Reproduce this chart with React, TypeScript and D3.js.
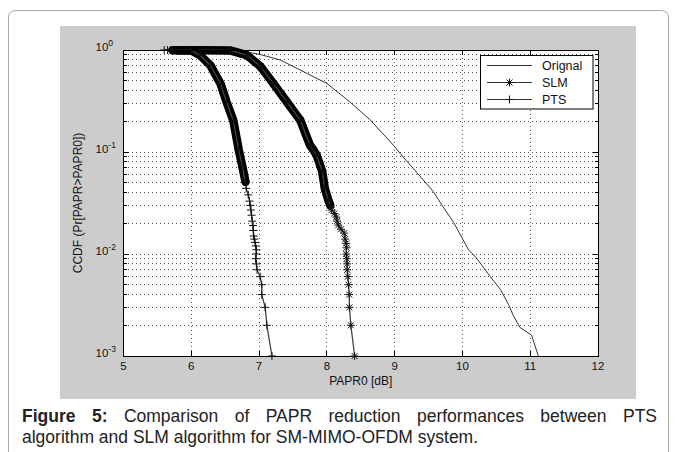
import React, { useEffect, useRef } from "react";
import * as d3 from "d3";

const W = 677;
const H = 452;

const xTicks = [5, 6, 7, 8, 9, 10, 11, 12];
const yExponents = [0, -1, -2, -3];
const legendNames = ["Orignal", "SLM", "PTS"];

// [PAPR0 (dB), CCDF]
const originalCurve: [number, number][] = [
  [5.9, 1.0], [6.67, 0.99], [7.0, 0.91], [7.31, 0.8], [8.0, 0.47], [8.34, 0.31],
  [8.64, 0.206], [8.98, 0.117], [9.08, 0.097], [9.57, 0.041], [9.7, 0.03],
  [9.87, 0.0204], [10.09, 0.011], [10.21, 0.0091], [10.41, 0.006], [10.56, 0.0045],
  [10.68, 0.0032], [10.75, 0.0025], [10.85, 0.0019], [11.02, 0.0016], [11.12, 0.001],
];

const slmCurve: [number, number][] = [
  [5.8, 0.995], [6.2, 0.995], [6.57, 0.99], [6.82, 0.89], [7.02, 0.69], [7.21, 0.47],
  [7.41, 0.31], [7.61, 0.204], [7.75, 0.117], [7.8, 0.105], [7.85, 0.093], [7.93, 0.065],
  [7.97, 0.044], [8.02, 0.034], [8.05, 0.03], [8.07, 0.027], [8.11, 0.025], [8.14, 0.023],
  [8.15, 0.021], [8.17, 0.0192], [8.21, 0.0175], [8.255, 0.016], [8.27, 0.014],
  [8.285, 0.0127], [8.29, 0.0115], [8.285, 0.01], [8.295, 0.009], [8.3, 0.008],
  [8.3, 0.007], [8.31, 0.006], [8.32, 0.005], [8.33, 0.004], [8.333, 0.003],
  [8.354, 0.002], [8.41, 0.001],
];

const ptsCurve: [number, number][] = [
  [5.6, 1.0], [5.65, 1.0], [5.7, 1.0], [5.72, 0.995], [6.0, 0.99], [6.13, 0.89],
  [6.28, 0.71], [6.43, 0.47], [6.52, 0.31], [6.62, 0.204], [6.7, 0.105], [6.75, 0.074],
  [6.8, 0.051], [6.81, 0.044], [6.84, 0.038], [6.86, 0.033], [6.87, 0.03], [6.88, 0.027],
  [6.89, 0.024], [6.9, 0.021], [6.91, 0.019], [6.915, 0.017], [6.92, 0.015],
  [6.93, 0.014], [6.94, 0.013], [6.95, 0.012], [6.96, 0.011], [6.957, 0.01],
  [6.95, 0.009], [6.96, 0.008], [6.97, 0.007], [7.016, 0.006], [7.04, 0.005],
  [7.04, 0.004], [7.09, 0.003], [7.115, 0.002], [7.19, 0.001],
];

// CCDF range where the markers pile up into a solid black band
const slmDense: [number, number] = [0.03, 0.995];
const ptsDense: [number, number] = [0.045, 0.995];

const captionBold = "Figure 5:";
const captionLine1 = "Comparison of PAPR reduction performances between PTS";
const captionLine2 = "algorithm and SLM algorithm for SM-MIMO-OFDM system.";

const font = "'Liberation Sans', Arial, Helvetica, sans-serif";
const plusPath = "M-4,0H4M0,-4V4";
const starPath = "M-4,0H4M0,-4V4M-3,-3L3,3M-3,3L3,-3";

export default function App() {
  const svgRef = useRef<SVGSVGElement>(null);

  useEffect(() => {
    const svg = d3.select(svgRef.current);
    svg.selectAll("*").remove();

    const left = 123.5, right = 598, top = 50, bottom = 356;
    const x = d3.scaleLinear().domain([5, 12]).range([left, right]);
    const y = d3.scaleLog().domain([1e-3, 1]).range([bottom, top]);

    // card outline + matlab figure background
    svg.append("path")
      .attr("d", `M8.5,${H} V18 Q8.5,10.5 16,10.5 H661 Q668.5,10.5 668.5,18 V${H}`)
      .attr("fill", "none").attr("stroke", "#a8a8a8");
    svg.append("rect").attr("x", 60).attr("y", 26).attr("width", 576).attr("height", 373)
      .attr("fill", "#cccccc");
    svg.append("rect").attr("x", left).attr("y", top).attr("width", right - left)
      .attr("height", bottom - top).attr("fill", "#fff");

    // grid
    const grid = svg.append("g").attr("stroke", "#555").attr("stroke-dasharray", "1,3")
      .attr("shape-rendering", "crispEdges");
    xTicks.slice(1, -1).forEach((t) => {
      grid.append("line").attr("x1", x(t)).attr("x2", x(t)).attr("y1", top).attr("y2", bottom);
    });
    const yTicks = y.ticks();
    yTicks.filter((t) => t > 1e-3 && t < 1).forEach((t) => {
      grid.append("line").attr("x1", left).attr("x2", right).attr("y1", y(t)).attr("y2", y(t));
    });

    // tick marks
    const ticks = svg.append("g").attr("stroke", "#000").attr("shape-rendering", "crispEdges");
    xTicks.forEach((t) => {
      ticks.append("line").attr("x1", x(t)).attr("x2", x(t)).attr("y1", bottom).attr("y2", bottom - 5);
      ticks.append("line").attr("x1", x(t)).attr("x2", x(t)).attr("y1", top).attr("y2", top + 5);
    });
    yTicks.forEach((t) => {
      const major = Math.abs(Math.log10(t) - Math.round(Math.log10(t))) < 1e-9;
      const len = major ? 5 : 3;
      ticks.append("line").attr("x1", left).attr("x2", left + len).attr("y1", y(t)).attr("y2", y(t));
      ticks.append("line").attr("x1", right).attr("x2", right - len).attr("y1", y(t)).attr("y2", y(t));
    });

    const line = d3.line<[number, number]>().x((d) => x(d[0])).y((d) => y(d[1]));

    // original
    svg.append("path").datum(originalCurve).attr("d", line)
      .attr("fill", "none").attr("stroke", "#333").attr("stroke-width", 1);

    const drawSeries = (data: [number, number][], dense: [number, number], marker: string) => {
      const band = data.filter((d) => d[1] >= dense[0] && d[1] <= dense[1]);
      svg.append("path").datum(band).attr("d", line)
        .attr("fill", "none").attr("stroke", "#000").attr("stroke-width", 8.5)
        .attr("stroke-linejoin", "round").attr("stroke-linecap", "round");
      svg.append("path").datum(data).attr("d", line)
        .attr("fill", "none").attr("stroke", "#444").attr("stroke-width", 1.3);
      svg.append("g").selectAll("path").data(data).enter().append("path")
        .attr("transform", (d) => `translate(${x(d[0])},${y(d[1])})`)
        .attr("d", marker).attr("fill", "none").attr("stroke", "#111").attr("stroke-width", 1);
    };
    drawSeries(slmCurve, slmDense, starPath);
    drawSeries(ptsCurve, ptsDense, plusPath);

    // frame
    svg.append("rect").attr("x", left).attr("y", top).attr("width", right - left)
      .attr("height", bottom - top).attr("fill", "none").attr("stroke", "#000")
      .attr("shape-rendering", "crispEdges");

    // tick labels
    svg.append("g").selectAll("text").data(xTicks).enter().append("text")
      .attr("x", (d) => x(d)).attr("y", bottom + 13.5).attr("text-anchor", "middle")
      .style("font-family", font).style("font-size", "11.5px").attr("fill", "#111")
      .text((d) => d);
    yExponents.forEach((e) => {
      const t = svg.append("text").attr("x", 95.5).attr("y", y(Math.pow(10, e)) + 1)
        .style("font-family", font).style("font-size", "11.5px").attr("fill", "#111");
      t.append("tspan").text("10");
      t.append("tspan").attr("dy", -5).style("font-size", "8.5px").text(e);
    });

    // axis labels
    svg.append("text").attr("x", (left + right) / 2).attr("y", 385).attr("text-anchor", "middle")
      .style("font-family", font).style("font-size", "12px").attr("fill", "#111")
      .text("PAPR0 [dB]");
    svg.append("text").attr("transform", `translate(81.5,${(top + bottom) / 2}) rotate(-90)`)
      .attr("text-anchor", "middle")
      .style("font-family", font).style("font-size", "12px").attr("fill", "#111")
      .text("CCDF (Pr[PAPR>PAPR0])");

    // legend
    const lg = svg.append("g");
    lg.append("rect").attr("x", 480.5).attr("y", 55.5).attr("width", 112.5).attr("height", 53.5)
      .attr("fill", "#fff").attr("stroke", "#000");
    legendNames.forEach((name, i) => {
      const ry = 65.5 + i * 17;
      lg.append("line").attr("x1", 487).attr("x2", 532).attr("y1", ry).attr("y2", ry)
        .attr("stroke", "#333").attr("stroke-width", 1);
      if (i > 0) {
        lg.append("path").attr("transform", `translate(509.5,${ry})`)
          .attr("d", i === 1 ? starPath : plusPath).attr("fill", "none").attr("stroke", "#111");
      }
      lg.append("text").attr("x", 542).attr("y", ry + 4.5)
        .style("font-family", font).style("font-size", "12.5px").attr("fill", "#111").text(name);
    });

    // caption, first line justified
    const cap = svg.append("g").style("font-family", font).style("font-size", "17.5px").attr("fill", "#222");
    const words = [
      ...captionBold.split(" ").map((w) => ({ w, bold: true })),
      ...captionLine1.split(" ").map((w) => ({ w, bold: false })),
    ];
    const nodes = words.map((d) =>
      cap.append("text").attr("y", 422).style("font-weight", d.bold ? "bold" : "normal").text(d.w)
    );
    const widths = nodes.map((n) => (n.node() as SVGTextElement).getComputedTextLength());
    const x0 = 22, x1 = 657;
    const gap = (x1 - x0 - d3.sum(widths)) / (words.length - 1);
    let cx = x0;
    nodes.forEach((n, i) => {
      n.attr("x", cx);
      cx += widths[i] + gap;
    });
    cap.append("text").attr("x", x0).attr("y", 443).text(captionLine2);
  }, []);

  return (
    <svg ref={svgRef} width={W} height={H}
      style={{ position: "absolute", left: 0, top: 0, background: "#fff" }} />
  );
}
